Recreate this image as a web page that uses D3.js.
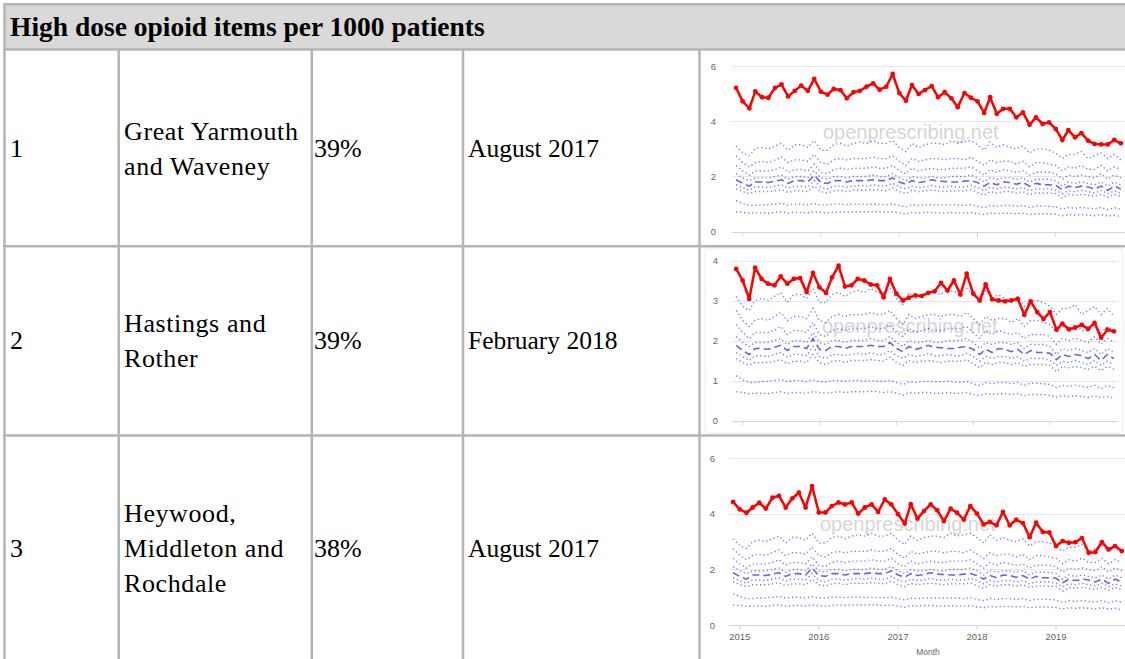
<!DOCTYPE html>
<html>
<head>
<meta charset="utf-8">
<script src="https://cdn.jsdelivr.net/npm/d3@7"></script>
<style>
    body { margin: 0; background: #fff; }
    svg { display: block; }
</style>
</head>
<body>
<svg id="chart"></svg>
<script>
const WIDTH = 1125;
const HEIGHT = 659;

const TITLE = "High dose opioid items per 1000 patients";
const ranks = ["1", "2", "3"];
const ccgNames = [
    ["Great Yarmouth", "and Waveney"],
    ["Hastings and", "Rother"],
    ["Heywood,", "Middleton and", "Rochdale"]
];
const percents = ["39%", "39%", "38%"];
const changeDates = ["August 2017", "February 2018", "August 2017"];
const yearTicks = [2015, 2016, 2017, 2018, 2019];

// monthly, Dec 2014 .. Nov 2019
const months = d3.timeMonth.range(new Date(2014, 11, 1), new Date(2019, 11, 1));

const greatYarmouth = [5.21, 4.72, 4.47, 5.08, 4.87, 4.85, 5.21, 5.33, 4.90, 5.10, 5.29, 5.10,
    5.53, 5.07, 4.96, 5.17, 5.13, 4.83, 5.05, 5.10, 5.25, 5.37, 5.14, 5.25,
    5.71, 5.02, 4.74, 5.31, 4.99, 5.13, 5.27, 4.87, 5.05, 4.83, 4.51, 5.02,
    4.85, 4.72, 4.30, 4.87, 4.27, 4.45, 4.45, 4.14, 4.32, 3.87, 4.14, 3.90,
    3.96, 3.72, 3.32, 3.68, 3.42, 3.57, 3.30, 3.18, 3.16, 3.16, 3.32, 3.20];

const hastings = [3.79, 3.50, 3.04, 3.82, 3.54, 3.42, 3.38, 3.60, 3.42, 3.54, 3.56, 3.21,
    3.69, 3.33, 3.19, 3.58, 3.87, 3.35, 3.38, 3.54, 3.50, 3.40, 3.38, 3.08,
    3.54, 3.17, 3.00, 3.07, 3.13, 3.11, 3.19, 3.23, 3.44, 3.25, 3.50, 3.15,
    3.67, 3.17, 3.00, 3.40, 3.03, 3.00, 2.98, 3.00, 3.04, 2.64, 2.98, 2.71,
    2.54, 2.71, 2.27, 2.42, 2.28, 2.32, 2.39, 2.29, 2.44, 2.07, 2.27, 2.23];

const heywood = [4.43, 4.16, 4.04, 4.23, 4.40, 4.19, 4.58, 4.65, 4.23, 4.56, 4.76, 4.23,
    5.00, 4.05, 4.05, 4.28, 4.41, 4.34, 4.41, 4.01, 4.23, 4.34, 4.07, 4.52,
    4.34, 3.99, 3.65, 4.35, 3.83, 4.10, 4.34, 4.13, 3.74, 4.19, 4.04, 3.79,
    4.28, 4.01, 3.62, 3.71, 3.59, 4.07, 3.59, 3.79, 3.67, 3.16, 3.68, 3.35,
    3.33, 2.84, 3.02, 2.96, 2.98, 3.13, 2.60, 2.62, 2.98, 2.72, 2.84, 2.66];

// national percentiles (same in every chart)
const p90 = [3.10, 2.85, 2.75, 3.00, 3.05, 3.00, 3.10, 3.20, 2.95, 3.15, 3.15, 3.05,
    3.30, 2.95, 2.95, 3.15, 3.20, 3.10, 3.20, 3.25, 3.20, 3.30, 3.20, 3.20,
    3.30, 3.05, 2.90, 3.20, 3.05, 3.15, 3.20, 3.20, 3.15, 3.30, 3.20, 3.25,
    3.30, 3.15, 2.95, 3.25, 3.05, 3.15, 3.05, 3.00, 3.10, 2.85, 3.00, 3.00,
    2.95, 2.85, 2.65, 2.80, 2.80, 2.90, 2.65, 2.75, 2.85, 2.65, 2.80, 2.60];
const p80 = [2.75, 2.50, 2.35, 2.50, 2.55, 2.50, 2.60, 2.70, 2.50, 2.60, 2.60, 2.55,
    2.80, 2.50, 2.45, 2.60, 2.65, 2.60, 2.65, 2.65, 2.65, 2.70, 2.65, 2.65,
    2.75, 2.55, 2.40, 2.65, 2.55, 2.60, 2.65, 2.65, 2.60, 2.65, 2.65, 2.60,
    2.70, 2.55, 2.40, 2.60, 2.50, 2.55, 2.55, 2.45, 2.55, 2.35, 2.50, 2.50,
    2.45, 2.40, 2.20, 2.35, 2.30, 2.40, 2.25, 2.25, 2.40, 2.20, 2.35, 2.25];
const p70 = [2.40, 2.20, 2.05, 2.20, 2.20, 2.20, 2.25, 2.35, 2.15, 2.25, 2.25, 2.20,
    2.45, 2.15, 2.10, 2.25, 2.30, 2.25, 2.30, 2.30, 2.30, 2.35, 2.30, 2.30,
    2.40, 2.20, 2.10, 2.30, 2.20, 2.25, 2.30, 2.25, 2.25, 2.30, 2.30, 2.30,
    2.35, 2.20, 2.05, 2.25, 2.15, 2.25, 2.20, 2.15, 2.20, 2.05, 2.15, 2.15,
    2.15, 2.10, 1.90, 2.05, 2.00, 2.05, 2.00, 1.95, 2.10, 1.90, 2.05, 1.95];
const p60 = [2.10, 1.95, 1.85, 1.95, 1.95, 1.95, 2.00, 2.05, 1.90, 2.00, 2.00, 1.95,
    2.20, 1.95, 1.90, 2.00, 2.00, 1.95, 2.00, 2.00, 2.00, 2.05, 2.00, 2.00,
    2.10, 1.95, 1.85, 2.00, 1.95, 1.95, 2.00, 1.95, 1.95, 2.00, 2.00, 2.00,
    2.05, 1.95, 1.80, 1.95, 1.90, 1.95, 1.95, 1.90, 1.95, 1.80, 1.90, 1.90,
    1.90, 1.85, 1.65, 1.80, 1.75, 1.80, 1.75, 1.70, 1.80, 1.65, 1.80, 1.70];
const p50 = [1.88, 1.75, 1.65, 1.80, 1.80, 1.78, 1.83, 1.88, 1.75, 1.85, 1.85, 1.80,
    2.05, 1.78, 1.75, 1.85, 1.85, 1.80, 1.85, 1.85, 1.85, 1.88, 1.85, 1.85,
    1.95, 1.80, 1.72, 1.85, 1.78, 1.82, 1.88, 1.83, 1.82, 1.80, 1.80, 1.83,
    1.85, 1.78, 1.65, 1.78, 1.70, 1.80, 1.78, 1.72, 1.78, 1.65, 1.75, 1.70,
    1.70, 1.68, 1.52, 1.65, 1.60, 1.65, 1.62, 1.55, 1.65, 1.50, 1.65, 1.55];
const p40 = [1.70, 1.60, 1.50, 1.62, 1.62, 1.60, 1.65, 1.70, 1.58, 1.65, 1.65, 1.62,
    1.85, 1.60, 1.55, 1.65, 1.65, 1.62, 1.65, 1.68, 1.65, 1.70, 1.65, 1.65,
    1.75, 1.62, 1.55, 1.65, 1.60, 1.62, 1.68, 1.62, 1.62, 1.65, 1.62, 1.62,
    1.68, 1.60, 1.48, 1.60, 1.55, 1.60, 1.60, 1.55, 1.60, 1.48, 1.55, 1.55,
    1.55, 1.50, 1.38, 1.48, 1.45, 1.50, 1.45, 1.40, 1.50, 1.38, 1.48, 1.40];
const p30 = [1.55, 1.45, 1.38, 1.45, 1.45, 1.45, 1.48, 1.52, 1.42, 1.48, 1.48, 1.45,
    1.65, 1.45, 1.40, 1.48, 1.50, 1.45, 1.50, 1.50, 1.50, 1.52, 1.50, 1.48,
    1.58, 1.45, 1.38, 1.50, 1.45, 1.48, 1.50, 1.48, 1.45, 1.48, 1.48, 1.48,
    1.52, 1.42, 1.32, 1.45, 1.40, 1.45, 1.45, 1.40, 1.45, 1.35, 1.40, 1.40,
    1.40, 1.38, 1.22, 1.35, 1.32, 1.35, 1.32, 1.28, 1.35, 1.25, 1.35, 1.28];
const p20 = [1.12, 1.02, 0.95, 0.95, 0.97, 0.98, 1.00, 1.03, 0.97, 1.00, 1.00, 0.97,
    1.02, 0.97, 0.97, 1.00, 1.00, 0.98, 1.00, 1.00, 0.98, 1.00, 0.98, 0.98,
    1.00, 0.95, 0.90, 0.97, 0.95, 0.97, 0.98, 0.97, 0.97, 0.98, 0.97, 0.95,
    0.98, 0.92, 0.87, 0.95, 0.92, 0.95, 0.95, 0.92, 0.95, 0.88, 0.93, 0.93,
    0.92, 0.90, 0.82, 0.88, 0.85, 0.88, 0.85, 0.83, 0.88, 0.80, 0.87, 0.82];
const p10 = [0.72, 0.70, 0.67, 0.68, 0.68, 0.67, 0.70, 0.72, 0.68, 0.70, 0.70, 0.68,
    0.72, 0.70, 0.68, 0.70, 0.72, 0.70, 0.72, 0.72, 0.72, 0.73, 0.72, 0.70,
    0.72, 0.68, 0.64, 0.70, 0.68, 0.70, 0.70, 0.68, 0.68, 0.70, 0.68, 0.68,
    0.70, 0.65, 0.62, 0.67, 0.65, 0.67, 0.67, 0.65, 0.67, 0.62, 0.65, 0.65,
    0.65, 0.63, 0.58, 0.62, 0.60, 0.62, 0.60, 0.58, 0.62, 0.57, 0.60, 0.55];

const deciles = [p10, p20, p30, p40, p60, p70, p80, p90];
const ccgSeries = [greatYarmouth, hastings, heywood];

// layout of the table
const ROW_LINES = [4.2, 49.5, 246.3, 435.5];
const COL_LINES = [4.5, 118.7, 311.8, 463, 699.5];
const BORDER = "#b4b4b4";
const SERIF = "'Liberation Serif', 'Times New Roman', serif";
const SANS = "'Liberation Sans', Arial, sans-serif";

// per chart geometry (each chart was a screenshot scaled a bit differently)
const CHARTS = [
    { x0: 742.7, x1: 1055.7, yMax: 6, yStep: 2, yBottom: 231.7, yTop: 66, gridX: [732, 1125], labelX: 716, wm: [823, 139], xAxis: false },
    { x0: 742.7, x1: 1050, yMax: 4, yStep: 1, yBottom: 420.5, yTop: 260.5, gridX: [732, 1118], labelX: 718, wm: [822, 332.5], xAxis: false, frame: [705, 248, 418, 185] },
    { x0: 739.8, x1: 1056, yMax: 6, yStep: 2, yBottom: 625, yTop: 458.3, gridX: [729, 1125], labelX: 715, wm: [820, 531], xAxis: true }
];

const svg = d3.select("#chart")
    .attr("width", WIDTH)
    .attr("height", HEIGHT);

svg.append("rect").attr("width", WIDTH).attr("height", HEIGHT).attr("fill", "#fff");

// header background
svg.append("rect")
    .attr("x", COL_LINES[0]).attr("y", ROW_LINES[0])
    .attr("width", WIDTH - COL_LINES[0]).attr("height", ROW_LINES[1] - ROW_LINES[0])
    .attr("fill", "#d9d9d9");

svg.append("text")
    .attr("x", 10).attr("y", 36)
    .attr("font-family", SERIF).attr("font-size", 27.5).attr("font-weight", "bold")
    .attr("fill", "#000")
    .text(TITLE);

// charts
CHARTS.forEach((c, i) => {
    const g = svg.append("g");
    const x = d3.scaleTime()
        .domain([new Date(2015, 0, 1), new Date(2019, 0, 1)])
        .range([c.x0, c.x1]);
    const y = d3.scaleLinear()
        .domain([0, c.yMax])
        .range([c.yBottom, c.yTop]);

    if (c.frame) {
        g.append("rect")
            .attr("x", c.frame[0]).attr("y", c.frame[1])
            .attr("width", c.frame[2]).attr("height", c.frame[3])
            .attr("rx", 4)
            .attr("fill", "none").attr("stroke", "#ececec");
    }

    const yTicks = d3.range(0, c.yMax + 0.001, c.yStep);

    g.append("g")
        .selectAll("line")
        .data(yTicks.filter(d => d > 0))
        .join("line")
        .attr("x1", c.gridX[0]).attr("x2", c.gridX[1])
        .attr("y1", d => Math.round(y(d)) + 0.5).attr("y2", d => Math.round(y(d)) + 0.5)
        .attr("stroke", "#e6e6e6");

    g.append("g")
        .selectAll("text")
        .data(yTicks)
        .join("text")
        .attr("x", c.labelX).attr("y", d => y(d) + 3.5)
        .attr("text-anchor", "end")
        .attr("font-family", SANS).attr("font-size", 9.5).attr("fill", "#666")
        .text(d => d);

    // baseline axis + ticks
    g.append("line")
        .attr("x1", c.gridX[0]).attr("x2", c.gridX[1])
        .attr("y1", Math.round(y(0)) + 0.5).attr("y2", Math.round(y(0)) + 0.5)
        .attr("stroke", "#ccd6eb");
    g.append("g")
        .selectAll("line")
        .data(yearTicks)
        .join("line")
        .attr("x1", d => x(new Date(d, 0, 1))).attr("x2", d => x(new Date(d, 0, 1)))
        .attr("y1", y(0)).attr("y2", y(0) + 5)
        .attr("stroke", "#ccd6eb");

    if (c.xAxis) {
        g.append("g")
            .selectAll("text")
            .data(yearTicks)
            .join("text")
            .attr("x", d => x(new Date(d, 0, 1))).attr("y", y(0) + 15)
            .attr("text-anchor", "middle")
            .attr("font-family", SANS).attr("font-size", 9.5).attr("fill", "#666")
            .text(d => d);
        g.append("text")
            .attr("x", 928).attr("y", 655)
            .attr("text-anchor", "middle")
            .attr("font-family", SANS).attr("font-size", 8.5).attr("fill", "#666")
            .text("Month");
    }

    // watermark
    g.append("text")
        .attr("x", c.wm[0]).attr("y", c.wm[1])
        .attr("font-family", SANS).attr("font-size", 20)
        .attr("fill", "#d6d6d6")
        .text("openprescribing.net");

    const line = d3.line()
        .x((d, j) => x(months[j]))
        .y(d => y(d));

    g.append("g")
        .selectAll("path")
        .data(deciles)
        .join("path")
        .attr("d", line)
        .attr("fill", "none")
        .attr("stroke", "#2020ff")
        .attr("stroke-opacity", 0.6)
        .attr("stroke-width", 1.4)
        .attr("stroke-dasharray", "1.3,2.7");

    g.append("path")
        .attr("d", line(p50))
        .attr("fill", "none")
        .attr("stroke", "#2020ff")
        .attr("stroke-opacity", 0.7)
        .attr("stroke-width", 1.6)
        .attr("stroke-dasharray", "7,4");

    const series = ccgSeries[i];
    g.append("path")
        .attr("d", line(series))
        .attr("fill", "none")
        .attr("stroke", "#ff0000")
        .attr("stroke-width", 2.5)
        .attr("stroke-linejoin", "round");
    g.append("g")
        .selectAll("circle")
        .data(series)
        .join("circle")
        .attr("cx", (d, j) => x(months[j]))
        .attr("cy", d => y(d))
        .attr("r", 2.4)
        .attr("fill", "#ff0000");
});

// row text
const rowCenters = [148, 340, 548];
const LINE_GAP = 35;
const FS = 26;

rowCenters.forEach((cy, i) => {
    const base = cy + 9;
    const cells = svg.append("g")
        .attr("font-family", SERIF).attr("font-size", FS).attr("fill", "#000");
    cells.append("text").attr("x", 10).attr("y", base).text(ranks[i]);
    const names = ccgNames[i];
    names.forEach((t, k) => {
        cells.append("text")
            .attr("x", 124)
            .attr("y", base + (k - (names.length - 1) / 2) * LINE_GAP)
            .attr("letter-spacing", 0.6)
            .text(t);
    });
    cells.append("text").attr("x", 314).attr("y", base).text(percents[i]);
    cells.append("text").attr("x", 468).attr("y", base).attr("font-size", 25.5).text(changeDates[i]);
});

// table borders
const borders = svg.append("g").attr("stroke", BORDER).attr("stroke-width", 2.5);
borders.selectAll(".h")
    .data(ROW_LINES)
    .join("line")
    .attr("class", "h")
    .attr("x1", COL_LINES[0] - 1.25).attr("x2", WIDTH)
    .attr("y1", d => d).attr("y2", d => d);
borders.selectAll(".v")
    .data(COL_LINES)
    .join("line")
    .attr("class", "v")
    .attr("x1", d => d).attr("x2", d => d)
    .attr("y1", (d, i) => i === 0 ? ROW_LINES[0] : ROW_LINES[1])
    .attr("y2", HEIGHT);
</script>
</body>
</html>
